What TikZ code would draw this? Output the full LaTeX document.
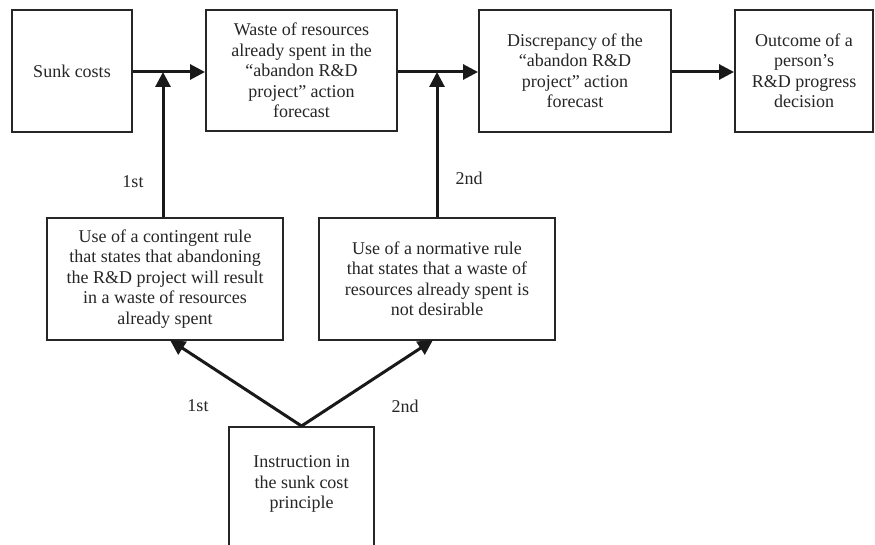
\documentclass[tikz,border=0pt]{standalone}
\usepackage{fontspec}
\setmainfont{Liberation Serif}
\usetikzlibrary{arrows.meta}
\begin{document}
\begin{tikzpicture}[x=1pt,y=-1pt,
  every node/.style={font=\fontsize{18}{20.5}\selectfont, text=black!85},
  box/.style={draw=black!85, line width=2pt, rectangle, align=center, inner sep=2pt},
  arr/.style={draw=black!90, line width=3pt, -{Triangle[length=15pt,width=15pt]}},
  lbl/.style={inner sep=0pt}]
\path[use as bounding box, clip] (0,0) rectangle (875,545);
\fill[white] (0,0) rectangle (875,545);
% top row
\node[box, minimum width=120pt, minimum height=122pt] (sunk) at (72,71) {Sunk costs};
\node[box, minimum width=191pt, minimum height=121pt] (waste) at (301.5,70.5) {Waste of resources\\already spent in the\\``abandon R\&D\\project'' action\\forecast};
\node[box, minimum width=192pt, minimum height=122pt] (disc) at (575,71) {Discrepancy of the\\``abandon R\&D\\project'' action\\forecast};
\node[box, minimum width=138pt, minimum height=122pt] (out) at (804,71) {Outcome of a\\person's\\R\&D progress\\decision};
% middle row
\node[box, minimum width=236pt, minimum height=122pt] (cont) at (165,279) {Use of a contingent rule\\that states that abandoning\\the R\&D project will result\\in a waste of resources\\already spent};
\node[box, minimum width=236pt, minimum height=122pt] (norm) at (437,279) {Use of a normative rule\\that states that a waste of\\resources already spent is\\not desirable};
% bottom
\node[box, minimum width=145pt, minimum height=124pt,
  label={[align=center, yshift=5pt, font=\fontsize{18}{20.5}\selectfont, text=black!85]center:Instruction in\\the sunk cost\\principle}] (inst) at (301.5,489) {};
% junctions
\coordinate (j1) at (163,72);
\coordinate (j2) at (437,72);
\coordinate (c1) at (170,340);
\coordinate (c2) at (433,340);
% arrows
\draw[arr] (sunk.east |- j1) -- (waste.west |- j1);
\draw[arr] (waste.east |- j2) -- (disc.west |- j2);
\draw[arr] (disc.east |- j2) -- (out.west |- j2);
\draw[arr] (cont.north -| j1) -- (j1);
\draw[arr] (norm.north -| j2) -- (j2);
\draw[arr] (inst.north) -- (c1);
\draw[arr] (inst.north) -- (c2);
% labels
\node[lbl] (l1) at (133,182) {1st};
\node[lbl] (l2) at (469,178) {2nd};
\node[lbl] (l3) at (198,406) {1st};
\node[lbl] (l4) at (405,406) {2nd};
\end{tikzpicture}
\end{document}
